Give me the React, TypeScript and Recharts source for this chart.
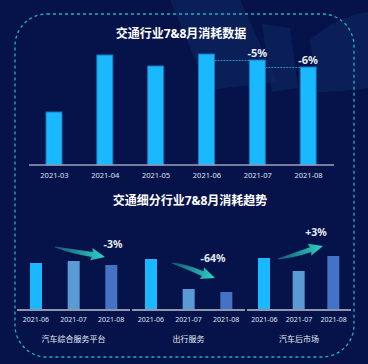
import React from 'react';
import { BarChart, Bar, XAxis, YAxis, Cell, LabelList } from 'recharts';

// top chart
const months = ['2021-03', '2021-04', '2021-05', '2021-06', '2021-07', '2021-08'];
const monthValues = [53, 110, 99, 111, 105, 98];
const monthChanges = ['', '', '', '', '-5%', '-6%'];

// bottom charts
const subMonths = ['2021-06', '2021-07', '2021-08'];
const subColors = ['#1ab8ff', '#5b9bd5', '#4472c4'];
const platformValues = [47, 49, 45];
const travelValues = [51, 21, 18];
const aftermarketValues = [52, 39, 54];
const segments = ['汽车综合服务平台', '出行服务', '汽车后市场'];
const segmentChanges = ['-3%', '-64%', '+3%'];

const FONT = '"Noto Sans", "Noto Sans CJK SC", sans-serif';
const TOP_W = 368;
const TOP_LEFT = 29;
const TOP_RIGHT = 34;
const TOP_BAR = 16;
const topGap = (TOP_W - TOP_LEFT - TOP_RIGHT) / months.length - TOP_BAR;

const topData = months.map((m, i) => ({ month: m, value: monthValues[i], change: monthChanges[i] }));

const BarWithLink = (props: any) => {
  const { x, y, width, height, payload } = props;
  return (
    <g>
      <rect x={x} y={y} width={width} height={height} fill="#1ab8ff" stroke="#1677b5" strokeWidth={1} />
      {payload.change ? (
        <line x1={x - topGap} x2={x} y1={y + 0.5} y2={y + 0.5} stroke="#2a8fd0" strokeWidth={1} strokeDasharray="2 1" />
      ) : null}
    </g>
  );
};

const arrowPath = (x1: number, y1: number, x2: number, y2: number, bend: number) => {
  const L = Math.hypot(x2 - x1, y2 - y1);
  const a = (Math.atan2(y2 - y1, x2 - x1) * 180) / Math.PI;
  const n = L - 13;
  const d = `M0,-0.5 Q${n * 0.5},${-3 + bend} ${n},-2.5 L${n - 1},-6.5 L${L},0 L${n - 1},6 L${n},2.5 Q${n * 0.5},${2 + bend} 0,0.5 Z`;
  return { d, transform: `translate(${x1},${y1}) rotate(${a})` };
};

const arrows = [
  { x1: 55, y1: 247, x2: 105, y2: 257, bend: 1.5, lx: 113, ly: 248, text: segmentChanges[0] },
  { x1: 172, y1: 263, x2: 215, y2: 278, bend: -1, lx: 213, ly: 262, text: segmentChanges[1] },
  { x1: 278, y1: 259, x2: 323, y2: 246, bend: 1.5, lx: 316, ly: 236, text: segmentChanges[2] },
];

const SubChart = ({ values, name, left, width }: { values: number[]; name: string; left: number; width: number }) => {
  const data = subMonths.map((m, i) => ({ month: m, value: values[i] }));
  return (
    <div style={{ position: 'absolute', left, top: 220 }}>
      <BarChart width={width} height={132} data={data} margin={{ top: 30, right: 0, left: 0, bottom: 0 }}>
        <XAxis
          dataKey="month"
          height={42}
          tickLine={false}
          axisLine={{ stroke: '#8e96ab', strokeWidth: 2 }}
          tick={{ fill: '#dfe5f0', fontSize: 7, fontFamily: FONT }}
          tickSize={5}
          interval={0}
          label={{ value: name, position: 'insideBottom', offset: 10, fill: '#e6ebf3', fontSize: 8, fontFamily: FONT }}
        />
        <YAxis hide domain={[0, 60]} />
        <Bar dataKey="value" barSize={12} isAnimationActive={false}>
          {data.map((_, i) => (
            <Cell key={i} fill={subColors[i]} />
          ))}
        </Bar>
      </BarChart>
    </div>
  );
};

export default function App() {
  return (
    <div style={{ position: 'relative', width: 368, height: 364, background: '#06134a', overflow: 'hidden', fontFamily: FONT }}>
      <style>{'body{margin:0}'}</style>
      <svg width={368} height={364} style={{ position: 'absolute', left: 0, top: 0 }}>
        <polygon points="170,0 240,0 277,82 208,90" fill="#0d2860" opacity={0.6} />
        <polygon points="262,24 290,28 298,88 272,92" fill="#0d2860" opacity={0.6} />
        <path d="M310,40 Q340,15 368,12 L368,88 Q340,92 318,92 Z" fill="#0d2860" opacity={0.6} />
        <rect x={15} y={14} width={339} height={343} rx={32} ry={32} fill="none" stroke="#1fb3bf" strokeWidth={1.3} strokeDasharray="3 3" />
        <text x={181} y={38} textAnchor="middle" fill="#ffffff" fontSize={12} fontWeight="bold">交通行业7&amp;8月消耗数据</text>
        <text x={190} y={205} textAnchor="middle" fill="#ffffff" fontSize={12} fontWeight="bold">交通细分行业7&amp;8月消耗趋势</text>
      </svg>
      <div style={{ position: 'absolute', left: 0, top: 0 }}>
        <BarChart width={TOP_W} height={190} data={topData} margin={{ top: 45, right: TOP_RIGHT, left: TOP_LEFT, bottom: 0 }}>
          <XAxis
            dataKey="month"
            height={25}
            tickLine={false}
            axisLine={{ stroke: '#9aa3b8', strokeWidth: 1.5 }}
            tick={{ fill: '#dfe5f0', fontSize: 7.5, fontFamily: FONT }}
            tickSize={6}
            interval={0}
          />
          <YAxis hide domain={[0, 120]} />
          <Bar dataKey="value" barSize={TOP_BAR} shape={<BarWithLink />} isAnimationActive={false}>
            <LabelList dataKey="change" position="top" offset={3} fill="#e6ebf3" fontSize={11} fontWeight="bold" fontFamily={FONT} />
          </Bar>
        </BarChart>
      </div>
      <SubChart values={platformValues} name={segments[0]} left={17} width={113} />
      <SubChart values={travelValues} name={segments[1]} left={132} width={113} />
      <SubChart values={aftermarketValues} name={segments[2]} left={247} width={104} />
      <svg width={368} height={364} style={{ position: 'absolute', left: 0, top: 0, pointerEvents: 'none' }}>
        <defs>
          <linearGradient id="arrowFill" x1="0" y1="0" x2="1" y2="0">
            <stop offset="0%" stopColor="#2ed3c6" stopOpacity={0.35} />
            <stop offset="100%" stopColor="#2ed3c6" stopOpacity={1} />
          </linearGradient>
        </defs>
        {arrows.map((a, i) => {
          const p = arrowPath(a.x1, a.y1, a.x2, a.y2, a.bend);
          return (
            <g key={i}>
              <path d={p.d} transform={p.transform} fill="url(#arrowFill)" />
              <text x={a.lx} y={a.ly} textAnchor="middle" fill="#e6ebf3" fontSize={10.5} fontWeight="bold">{a.text}</text>
            </g>
          );
        })}
      </svg>
    </div>
  );
}
